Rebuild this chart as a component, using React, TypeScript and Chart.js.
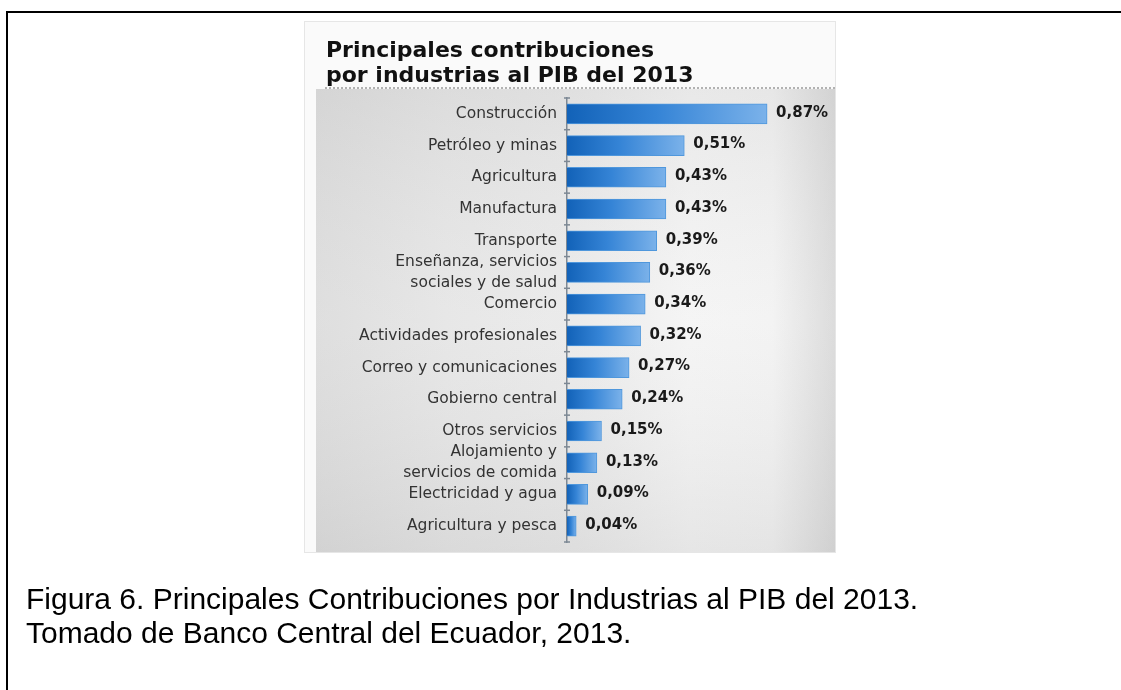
import React, { useEffect, useRef } from "react";
import { Chart, registerables } from "chart.js";

Chart.register(...registerables);

const categories: (string | string[])[] = [
  "Construcción",
  "Petróleo y minas",
  "Agricultura",
  "Manufactura",
  "Transporte",
  ["Enseñanza, servicios", "sociales y de salud"],
  "Comercio",
  "Actividades profesionales",
  "Correo y comunicaciones",
  "Gobierno central",
  "Otros servicios",
  ["Alojamiento y", "servicios de comida"],
  "Electricidad y agua",
  "Agricultura y pesca",
];

const values: number[] = [0.87, 0.51, 0.43, 0.43, 0.39, 0.36, 0.34, 0.32, 0.27, 0.24, 0.15, 0.13, 0.09, 0.04];

const valueLabels: string[] = values.map((v) => v.toFixed(2).replace(".", ",") + "%");

const titleLines: string[] = ["Principales contribuciones", "por industrias al PIB del 2013"];
const captionLines: string[] = [
  "Figura 6. Principales Contribuciones por Industrias al PIB del 2013.",
  "Tomado de Banco Central del Ecuador, 2013.",
];

const W = 1121;
const H = 690;

const decorPlugin = {
  id: "decor",
  beforeDraw(chart: any) {
    const ctx = chart.ctx as CanvasRenderingContext2D;
    ctx.save();
    ctx.fillStyle = "#ffffff";
    ctx.fillRect(0, 0, W, H);
    // frame
    ctx.strokeStyle = "#000000";
    ctx.lineWidth = 2;
    ctx.beginPath();
    ctx.moveTo(7, H);
    ctx.lineTo(7, 12);
    ctx.lineTo(W, 12);
    ctx.stroke();
    // panel
    ctx.fillStyle = "#fafafa";
    ctx.fillRect(304, 21, 531, 531);
    ctx.strokeStyle = "#e6e6e6";
    ctx.lineWidth = 1;
    ctx.strokeRect(304.5, 21.5, 531, 531);
    // textured grey background
    const g = ctx.createLinearGradient(316, 0, 835, 0);
    g.addColorStop(0, "#d9d9d9");
    g.addColorStop(0.25, "#e3e3e3");
    g.addColorStop(0.5, "#e8e8e8");
    g.addColorStop(0.72, "#f3f3f3");
    g.addColorStop(0.88, "#f1f1f1");
    g.addColorStop(1, "#d6d6d6");
    ctx.fillStyle = g;
    ctx.fillRect(316, 89, 519, 463);
    const g2 = ctx.createLinearGradient(0, 89, 0, 552);
    g2.addColorStop(0, "rgba(200,200,200,0.25)");
    g2.addColorStop(0.5, "rgba(255,255,255,0.15)");
    g2.addColorStop(1, "rgba(190,190,190,0.25)");
    ctx.fillStyle = g2;
    ctx.fillRect(316, 89, 519, 463);
    // title
    ctx.fillStyle = "#111111";
    ctx.font = "bold 22px 'DejaVu Sans'";
    ctx.textBaseline = "alphabetic";
    ctx.textAlign = "left";
    ctx.fillText(titleLines[0], 326, 57);
    ctx.fillText(titleLines[1], 326, 82);
    // dotted rule
    ctx.strokeStyle = "#9a9a9a";
    ctx.lineWidth = 1.5;
    ctx.setLineDash([2, 2]);
    ctx.beginPath();
    ctx.moveTo(325, 88);
    ctx.lineTo(835, 88);
    ctx.stroke();
    ctx.setLineDash([]);
    ctx.restore();
  },
  afterDatasetsDraw(chart: any) {
    const ctx = chart.ctx as CanvasRenderingContext2D;
    const meta = chart.getDatasetMeta(0);
    const ys = chart.scales.y;
    const area = chart.chartArea;
    ctx.save();
    // small ticks on axis between categories
    ctx.strokeStyle = "#7d8894";
    ctx.lineWidth = 1.5;
    const n = categories.length;
    for (let i = 0; i <= n; i++) {
      const y = i === 0 ? ys.top : i === n ? ys.bottom : (ys.getPixelForValue(i - 1) + ys.getPixelForValue(i)) / 2;
      ctx.beginPath();
      ctx.moveTo(area.left - 3, y);
      ctx.lineTo(area.left + 3, y);
      ctx.stroke();
    }
    // value labels
    ctx.fillStyle = "#1a1a1a";
    ctx.font = "bold 15px 'DejaVu Sans'";
    ctx.textAlign = "left";
    ctx.textBaseline = "middle";
    meta.data.forEach((bar: any, i: number) => {
      ctx.fillText(valueLabels[i], bar.x + 9, bar.y - 1);
    });
    ctx.restore();
  },
  afterDraw(chart: any) {
    const ctx = chart.ctx as CanvasRenderingContext2D;
    ctx.save();
    ctx.fillStyle = "#000000";
    ctx.font = "30px 'Liberation Sans'";
    ctx.textAlign = "left";
    ctx.textBaseline = "alphabetic";
    ctx.fillText(captionLines[0], 26, 609);
    ctx.fillText(captionLines[1], 26, 643);
    ctx.restore();
  },
};

export default function App() {
  const ref = useRef<HTMLCanvasElement | null>(null);
  useEffect(() => {
    if (!ref.current) return;
    const chart = new Chart(ref.current, {
      type: "bar",
      data: {
        labels: categories as any,
        datasets: [
          {
            data: values,
            barThickness: 20,
            borderWidth: 1,
            borderColor: "#4f97dc",
            backgroundColor: (c: any) => {
              const ch = c.chart;
              if (!ch.chartArea || c.type !== "data") return "#2f80d0";
              const xs = ch.scales.x;
              const x0 = xs.getPixelForValue(0);
              const x1 = Math.max(xs.getPixelForValue(c.raw), x0 + 2);
              const gr = ch.ctx.createLinearGradient(x0, 0, x1, 0);
              gr.addColorStop(0, "#1262b8");
              gr.addColorStop(0.45, "#3584d6");
              gr.addColorStop(1, "#7bb2ea");
              return gr;
            },
          },
        ],
      },
      options: {
        indexAxis: "y",
        responsive: false,
        animation: false,
        layout: { padding: { left: 320, top: 98, bottom: 148, right: 324 } },
        plugins: {
          legend: { display: false },
          tooltip: { enabled: false },
          title: { display: false },
        },
        scales: {
          x: {
            display: false,
            min: 0,
            max: 1,
          },
          y: {
            afterFit: (s: any) => {
              s.width = 247;
            },
            grid: { display: false, drawTicks: false },
            border: { display: true, color: "#7d8894", width: 1.5 },
            ticks: {
              autoSkip: false,
              color: "#333333",
              padding: 10,
              font: { family: "'DejaVu Sans'", size: 15.5, lineHeight: 1.35 },
            },
          },
        },
      },
      plugins: [decorPlugin],
    });
    return () => chart.destroy();
  }, []);
  return (
    <div style={{ position: "fixed", left: 0, top: 0, width: W, height: H }}>
      <canvas ref={ref} width={W} height={H} style={{ display: "block", width: W, height: H }} />
    </div>
  );
}
